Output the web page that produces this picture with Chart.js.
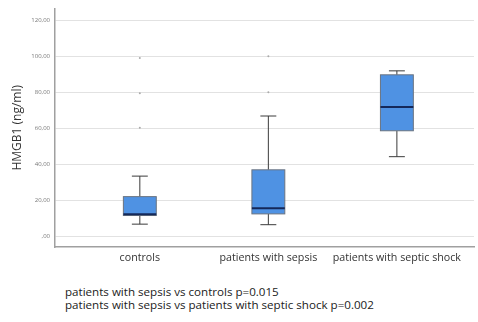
<!DOCTYPE html>
<html>
<head>
<meta charset="utf-8">
<script src="https://cdn.jsdelivr.net/npm/chart.js@4"></script>
<style>
    body { margin: 0; background: #fff; font-family: "Open Sans", sans-serif; }
    #wrap { position: relative; width: 478px; height: 322px; }
    #chart-box { position: absolute; left: 0; top: 0; width: 478px; height: 275px; }
    .note { position: absolute; left: 65px; font-size: 11.6px; color: #222; white-space: nowrap; }
</style>
</head>
<body>
<div id="wrap">
    <div id="chart-box"><canvas id="hmgb1-chart"></canvas></div>
    <div class="note" style="top: 284px;">patients with sepsis vs controls p=0.015</div>
    <div class="note" style="top: 297px;">patients with sepsis vs patients with septic shock p=0.002</div>
</div>
<script>
const groups = ['controls', 'patients with sepsis', 'patients with septic shock'];
const whiskerLow = [6.7, 6.4, 44.2];
const q1 = [11.5, 12.4, 58.6];
const median = [12.2, 15.5, 71.8];
const q3 = [22.0, 36.9, 89.7];
const whiskerHigh = [33.4, 66.8, 91.9];
const outlierGroup = [0, 0, 0, 1, 1];
const outlierValue = [99.0, 79.5, 60.3, 100.0, 80.0];
const yTicks = [0, 20, 40, 60, 80, 100, 120];

// box drawn with the chart's own scales
const boxPlot = {
    id: 'boxPlot',
    beforeDatasetsDraw(chart) {
        const ctx = chart.ctx;
        const xs = chart.scales.x;
        const ys = chart.scales.y;
        groups.forEach((g, i) => {
            const cx = xs.getPixelForValue(i);
            const half = xs.getPixelForValue(i + 0.128) - cx;
            const cap = xs.getPixelForValue(i + 0.062) - cx;
            const yLo = ys.getPixelForValue(whiskerLow[i]);
            const yQ1 = ys.getPixelForValue(q1[i]);
            const yMed = ys.getPixelForValue(median[i]);
            const yQ3 = ys.getPixelForValue(q3[i]);
            const yHi = ys.getPixelForValue(whiskerHigh[i]);
            ctx.save();
            ctx.strokeStyle = '#3a3a3a';
            ctx.lineWidth = 1;
            ctx.beginPath();
            ctx.moveTo(cx, yLo); ctx.lineTo(cx, yQ1);
            ctx.moveTo(cx, yQ3); ctx.lineTo(cx, yHi);
            ctx.moveTo(cx - cap, yLo); ctx.lineTo(cx + cap, yLo);
            ctx.moveTo(cx - cap, yHi); ctx.lineTo(cx + cap, yHi);
            ctx.stroke();
            ctx.fillStyle = '#4f92e3';
            ctx.fillRect(cx - half, yQ3, half * 2, yQ1 - yQ3);
            ctx.strokeStyle = '#6b7480';
            ctx.strokeRect(cx - half, yQ3, half * 2, yQ1 - yQ3);
            ctx.strokeStyle = '#14285a';
            ctx.lineWidth = 2;
            ctx.beginPath();
            ctx.moveTo(cx - half, yMed); ctx.lineTo(cx + half, yMed);
            ctx.stroke();
            ctx.restore();
        });
    }
};

new Chart(document.getElementById('hmgb1-chart'), {
    type: 'scatter',
    data: {
        datasets: [{
            label: 'outliers',
            data: outlierValue.map((v, k) => ({ x: outlierGroup[k], y: v })),
            pointRadius: 1,
            pointBackgroundColor: '#aaa',
            pointBorderWidth: 0
        }]
    },
    options: {
        responsive: true,
        maintainAspectRatio: false,
        animation: false,
        layout: { padding: { top: 5, right: 0, left: 0, bottom: 0 } },
        plugins: { legend: { display: false }, tooltip: { enabled: false } },
        scales: {
            x: {
                type: 'linear',
                min: -0.66,
                max: 2.6,
                afterBuildTicks: (s) => { s.ticks = groups.map((g, i) => ({ value: i })); },
                afterFit: (s) => { s.height = 28; },
                grid: { display: false, drawTicks: false },
                border: { color: '#a0a0a0', width: 1.5 },
                ticks: {
                    padding: 5,
                    color: '#333',
                    font: { family: 'Open Sans', size: 10.7 },
                    callback: (v) => groups[v]
                }
            },
            y: {
                min: -6,
                max: 126.5,
                afterBuildTicks: (s) => { s.ticks = yTicks.map(v => ({ value: v })); },
                afterFit: (s) => { s.width = 55; },
                grid: { color: '#e2e2e2', drawTicks: false },
                border: { color: '#a0a0a0', width: 1.5 },
                ticks: {
                    padding: 5,
                    color: '#777',
                    font: { family: 'Open Sans', size: 6 },
                    callback: (v) => v === 0 ? ',00' : v.toFixed(2).replace('.', ',')
                },
                title: {
                    display: true,
                    text: 'HMGB1 (ng/ml)',
                    color: '#333',
                    font: { family: 'Open Sans', size: 12 },
                    padding: { top: 10, bottom: 0 }
                }
            }
        }
    },
    plugins: [boxPlot]
});
</script>
</body>
</html>
